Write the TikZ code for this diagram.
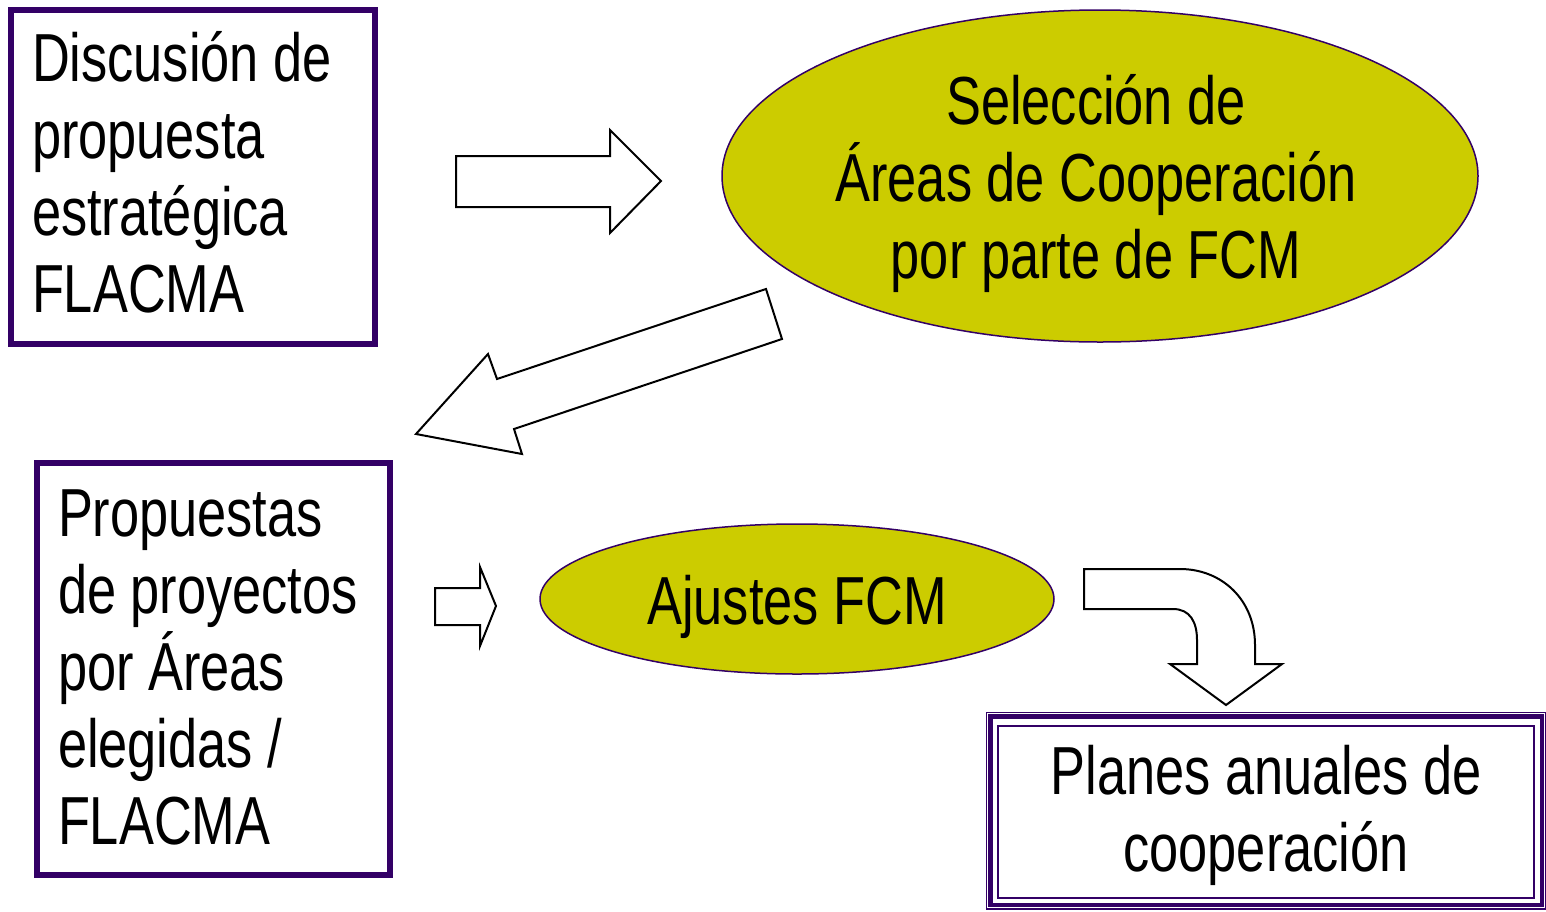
\documentclass[tikz,border=0pt]{standalone}
\usepackage{fontspec}
\setmainfont{Liberation Sans}[FakeStretch=0.77]
\usetikzlibrary{shapes.geometric,calc}
\definecolor{fpurple}{RGB}{51,0,102}
\definecolor{folive}{RGB}{204,204,0}
\begin{document}
\begin{tikzpicture}[x=1pt,y=-1pt,
  txt/.style={font=\fontsize{68}{77}\selectfont},
  pbox/.style={txt,draw=fpurple,line width=6pt,fill=white,align=flush left,inner xsep=21pt,inner ysep=0pt},
  oval/.style={ellipse,draw=fpurple,line width=1.5pt,fill=folive,inner sep=0pt},
  ovaltext/.style={txt,align=center,inner sep=0pt},
  barrow/.style={draw=black,line width=2pt,fill=white,line join=miter}]
\useasboundingbox (0,0) rectangle (1546,911);
% boxes
\node[pbox,minimum width=364pt,minimum height=334pt,text width=322pt] (b1) at (193,177) {};
\node[txt,align=flush left,text width=322pt,inner sep=0pt] (b1t) at (193,172)
  {Discusión de\\propuesta\\estratégica\\FLACMA};
\node[pbox,minimum width=353pt,minimum height=412pt,text width=311pt] (b2) at (213.5,669) {};
\node[txt,align=flush left,text width=311pt,inner sep=0pt] (b2t) at (213.5,667)
  {Propuestas\\de proyectos\\por Áreas\\elegidas /\\FLACMA};
% ellipses
\node[oval,minimum width=756pt,minimum height=332pt] (e1) at (1100,176) {};
\node[ovaltext] (e1t) at (1096,184) {Selección de\\Áreas de Cooperación\\por parte de FCM};
\node[oval,minimum width=514pt,minimum height=150pt] (e2) at (797,599) {};
\node[ovaltext] (e2t) at (797,607) {Ajustes FCM};
% final box with triple frame
\node[draw=fpurple,line width=1.5pt,minimum width=536pt,minimum height=172pt,inner sep=0pt] (b3) at (1266,812) {};
\node[ovaltext] (b3t) at (1266,815) {Planes anuales de\\cooperación};
\draw[fpurple,line width=4.5pt] ($(b3.north west)+(-7,-9)$) rectangle ($(b3.south east)+(7,6)$);
\draw[fpurple,line width=1.5pt] ($(b3.north west)+(-11,-13)$) rectangle ($(b3.south east)+(11,10)$);
% block arrows
\draw[barrow] (456,156) -- (610,156) -- (610,130) -- (661,181) -- (610,233) -- (610,207) -- (456,207) -- cycle;
\draw[barrow] (766,289) -- (782,339) -- (514,429) -- (522,454) -- (416,434) -- (488,354) -- (497,379) -- cycle;
\draw[barrow] (435,588) -- (480,588) -- (480,567) -- (496,606) -- (480,646) -- (480,625) -- (435,625) -- cycle;
\draw[barrow] (1084,569) -- (1180,569) .. controls (1222,569) and (1255,600) .. (1255,645)
  -- (1255,664) -- (1282,664) -- (1226,705) -- (1170,664) -- (1197,664) -- (1197,640)
  .. controls (1197,622) and (1190,609) .. (1173,609) -- (1084,609) -- cycle;
\end{tikzpicture}
\end{document}
